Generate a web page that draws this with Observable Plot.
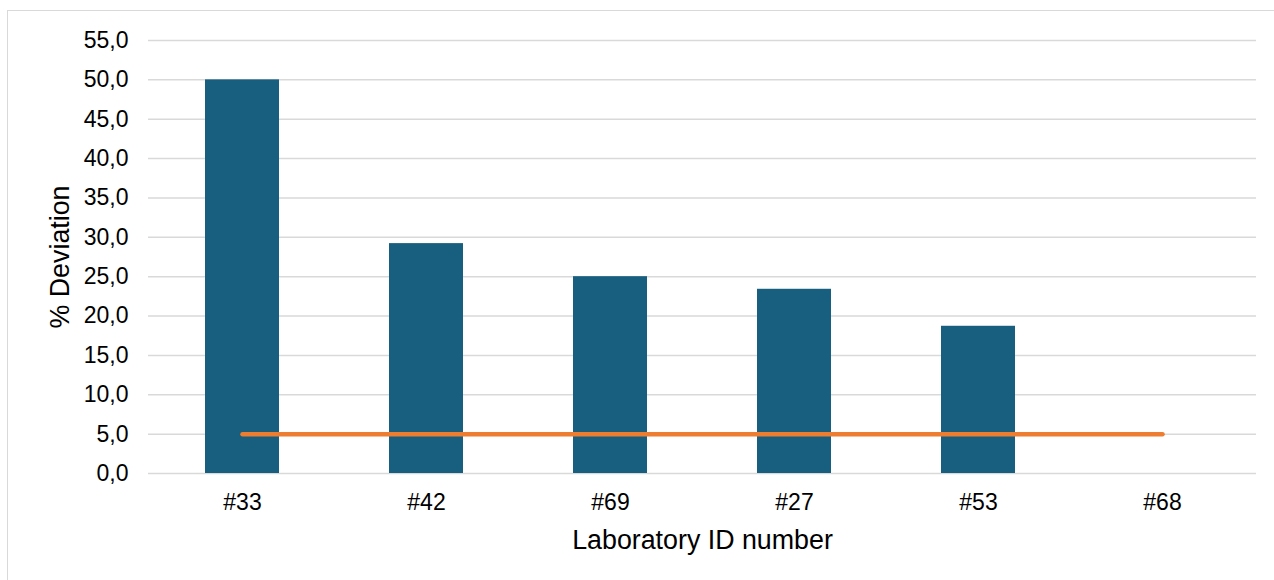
<!DOCTYPE html>
<html>
<head>
<meta charset="utf-8">
<script src="https://cdn.jsdelivr.net/npm/d3@7"></script>
<script src="https://cdn.jsdelivr.net/npm/@observablehq/plot@0.6"></script>
<style>
  html, body { margin: 0; padding: 0; background: #fff; overflow: hidden; }
  #wrap { position: relative; width: 1274px; height: 580px; }
  #box { position: absolute; left: 7px; top: 10px; width: 1300px; height: 620px;
         border: 1.3px solid #d9d9d9; box-sizing: border-box; }
  #chart { position: absolute; left: 0; top: 0; }
</style>
</head>
<body>
<div id="wrap">
  <div id="box"></div>
  <div id="chart"></div>
</div>
<script>
// Laboratories and their % deviation
const labs = ["#33", "#42", "#69", "#27", "#53", "#68"];
const deviation = [50.0, 29.2, 25.0, 23.4, 18.7, null];
// Acceptance limit (%)
const limit = 5.0;
const yTicks = [0, 5, 10, 15, 20, 25, 30, 35, 40, 45, 50, 55];

const bars = labs.map((lab, i) => ({lab, value: deviation[i]})).filter(d => d.value != null);
const limitLine = labs.map(lab => ({lab, value: limit}));

const fmt = v => v.toFixed(1).replace(".", ",");

const chart = Plot.plot({
  width: 1274,
  height: 580,
  marginLeft: 148,
  marginRight: 18,
  marginTop: 40,
  marginBottom: 107,
  style: {fontFamily: "Liberation Sans, Arial, sans-serif", color: "#000", background: "transparent"},
  x: {domain: labs, paddingInner: 0.6, paddingOuter: 0.3, label: null},
  y: {domain: [0, 55], label: null},
  marks: [
    Plot.gridY(yTicks, {stroke: "#d9d9d9", strokeOpacity: 1, strokeWidth: 1.5}),
    Plot.barY(bars, {x: "lab", y: "value", fill: "#175e7f"}),
    Plot.line(limitLine, {x: "lab", y: "value", stroke: "#ed7d31", strokeWidth: 4.5, strokeLinecap: "round"}),
    Plot.axisY({ticks: yTicks, tickFormat: fmt, tickSize: 0, tickPadding: 20, fontSize: 23, label: null}),
    Plot.axisX({tickSize: 0, tickPadding: 20, fontSize: 23, label: null}),
    Plot.text(["Laboratory ID number"], {frameAnchor: "bottom", dy: 67, lineAnchor: "middle", fontSize: 26.8, fill: "#000"}),
    Plot.text(["% Deviation"], {frameAnchor: "left", dx: -88, rotate: -90, lineAnchor: "middle", textAnchor: "middle", fontSize: 26.8, fill: "#000"})
  ]
});
document.getElementById("chart").appendChild(chart);
</script>
</body>
</html>
